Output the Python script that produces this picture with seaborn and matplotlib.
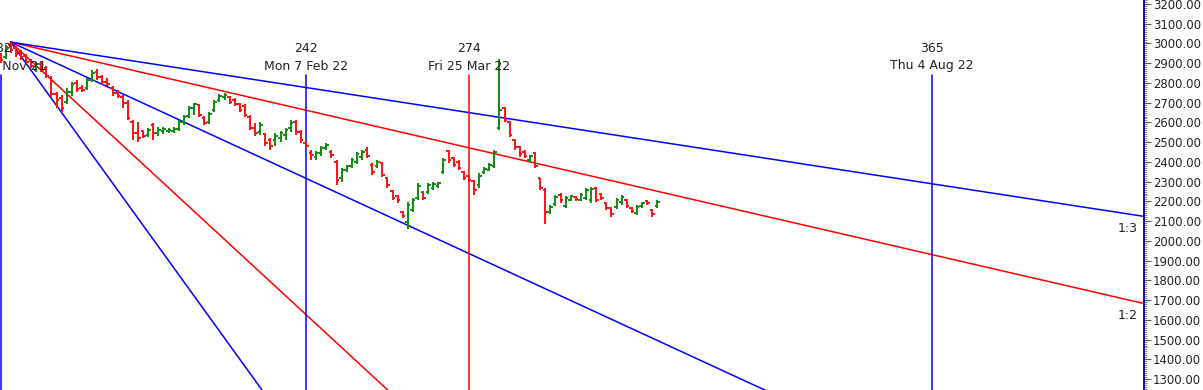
import numpy as np
import pandas as pd
import seaborn as sns
import matplotlib
matplotlib.use("Agg")
import matplotlib.pyplot as plt
import matplotlib.transforms as mtransforms
from matplotlib.ticker import MultipleLocator, FormatStrFormatter

# ---------------- data ----------------
start_bar = 182  # bar number of the first OHLC bar

opens = [2941, 2931, 2992, 2977, 2956, 2936, 2911, 2865, 2896, 2875,
         2825, 2744, 2723, 2703, 2754, 2799, 2774, 2774, 2814, 2855,
         2830, 2804, 2774, 2749, 2728, 2698, 2601, 2546, 2556, 2536,
         2586, 2546, 2556, 2556, 2556, 2566, 2601, 2632, 2672, 2688,
         2622, 2601, 2662, 2713, 2728, 2728, 2713, 2693, 2683, 2627,
         2571, 2551, 2541, 2510, 2510, 2521, 2536, 2571, 2601, 2551,
         2495, 2445, 2424, 2445, 2470, 2450, 2399, 2318, 2358, 2379,
         2399, 2424, 2460, 2384, 2379, 2394, 2318, 2252, 2227, 2145,
         2095, 2155, 2216, 2247, 2247, 2267, 2277, 2348, 2455, 2419,
         2399, 2348, 2328, 2303, 2282, 2348, 2358, 2379, 2571, 2672,
         2601, 2510, 2475, 2450, 2409, 2445, 2318, 2257, 2145, 2186,
         2232, 2176, 2206, 2222, 2206, 2216, 2206, 2267, 2237, 2191,
         2166, 2171, 2196, 2206, 2166, 2140, 2176, 2201, 2155, 2176]
highs = [2951, 2992, 3007, 2987, 2967, 2946, 2921, 2906, 2906, 2885,
         2835, 2754, 2738, 2774, 2804, 2814, 2789, 2825, 2865, 2870,
         2840, 2825, 2784, 2764, 2738, 2713, 2612, 2601, 2561, 2571,
         2596, 2576, 2576, 2571, 2576, 2612, 2637, 2683, 2698, 2693,
         2632, 2652, 2713, 2744, 2749, 2733, 2723, 2698, 2693, 2637,
         2596, 2601, 2546, 2521, 2546, 2556, 2571, 2612, 2612, 2561,
         2500, 2460, 2455, 2480, 2495, 2460, 2409, 2369, 2384, 2419,
         2450, 2460, 2475, 2394, 2409, 2399, 2323, 2257, 2232, 2150,
         2196, 2216, 2292, 2252, 2292, 2297, 2297, 2419, 2460, 2424,
         2409, 2353, 2333, 2308, 2343, 2374, 2394, 2460, 2921, 2678,
         2607, 2516, 2480, 2460, 2434, 2450, 2318, 2267, 2181, 2232,
         2242, 2227, 2232, 2227, 2242, 2267, 2272, 2272, 2242, 2196,
         2171, 2216, 2232, 2211, 2171, 2181, 2196, 2206, 2161, 2206]
lows = [2901, 2921, 2951, 2931, 2916, 2896, 2875, 2855, 2855, 2825,
        2728, 2672, 2652, 2693, 2733, 2754, 2754, 2764, 2804, 2814,
        2789, 2784, 2733, 2723, 2672, 2612, 2510, 2500, 2521, 2526,
        2510, 2531, 2541, 2546, 2546, 2556, 2586, 2622, 2637, 2627,
        2586, 2591, 2652, 2703, 2713, 2693, 2683, 2652, 2627, 2561,
        2531, 2536, 2480, 2460, 2480, 2500, 2510, 2551, 2536, 2495,
        2470, 2409, 2409, 2429, 2460, 2419, 2282, 2297, 2348, 2369,
        2389, 2409, 2419, 2333, 2369, 2323, 2267, 2206, 2191, 2115,
        2059, 2145, 2206, 2206, 2237, 2257, 2267, 2338, 2394, 2374,
        2358, 2308, 2297, 2232, 2267, 2338, 2353, 2369, 2561, 2601,
        2526, 2460, 2424, 2419, 2399, 2369, 2257, 2084, 2135, 2176,
        2191, 2166, 2201, 2201, 2201, 2206, 2191, 2196, 2206, 2155,
        2120, 2161, 2181, 2166, 2140, 2130, 2166, 2181, 2120, 2166]
closes = [2916, 2982, 2967, 2946, 2931, 2906, 2885, 2896, 2865, 2835,
          2744, 2713, 2672, 2754, 2794, 2769, 2764, 2814, 2850, 2830,
          2804, 2794, 2749, 2733, 2698, 2622, 2546, 2521, 2531, 2561,
          2546, 2561, 2566, 2561, 2566, 2601, 2627, 2672, 2693, 2637,
          2596, 2642, 2703, 2733, 2738, 2703, 2693, 2662, 2637, 2571,
          2546, 2586, 2495, 2480, 2531, 2546, 2561, 2596, 2551, 2510,
          2480, 2434, 2445, 2470, 2485, 2434, 2308, 2358, 2379, 2409,
          2440, 2450, 2429, 2348, 2399, 2333, 2282, 2216, 2206, 2125,
          2181, 2206, 2277, 2216, 2282, 2287, 2292, 2409, 2409, 2384,
          2369, 2318, 2308, 2257, 2328, 2363, 2384, 2450, 2662, 2612,
          2536, 2475, 2440, 2429, 2429, 2379, 2267, 2145, 2171, 2222,
          2206, 2216, 2227, 2211, 2232, 2257, 2262, 2206, 2216, 2166,
          2135, 2206, 2222, 2176, 2150, 2171, 2191, 2191, 2135, 2196]

# Gann fan
fan_origin_bar = 184
fan_origin_price = 3007
fan_unit = 11.9                     # price per bar for the 1:1 line
fan_ratios = [3, 2, 1, 0.5, 1 / 3]
fan_names = ["3:1", "2:1", "1:1", "1:2", "1:3"]
fan_colors = ["#0000ff", "#ff0000", "#0000ff", "#ff0000", "#0000ff"]
fan_shown_labels = ["1:2", "1:3"]

# time lines
vline_bars = [182, 242, 274, 365]
vline_dates = ["Thu 11 Nov 21", "Mon 7 Feb 22", "Fri 25 Mar 22", "Thu 4 Aug 22"]
vline_colors = ["#0000ff", "#0000ff", "#ff0000", "#0000ff"]

# ---------------- plot ----------------
sns.set_theme(style="white")
plt.rcParams['font.family'] = ['DejaVu Sans']

W, H = 1203, 390
fig = plt.figure(figsize=(W / 100, H / 100), dpi=100)
ax = fig.add_axes([0, 0, 1144 / W, 1])
x_min, x_max = 181.9, 406.6
y_min, y_max = 1244.6, 3220.3
ax.set_xlim(x_min, x_max)
ax.set_ylim(y_min, y_max)

text_color = "#222222"

# fan lines
rows = []
x_end = x_max + 20
for name, r in zip(fan_names, fan_ratios):
    rows.append({"fan": name, "bar": fan_origin_bar, "price": fan_origin_price})
    rows.append({"fan": name, "bar": x_end,
                 "price": fan_origin_price - r * fan_unit * (x_end - fan_origin_bar)})
fan_df = pd.DataFrame(rows)
sns.lineplot(data=fan_df, x="bar", y="price", hue="fan", hue_order=fan_names,
             palette=fan_colors, estimator=None, sort=False, legend=False,
             linewidth=1.1, ax=ax)
for name, r in zip(fan_names, fan_ratios):
    if name in fan_shown_labels:
        y_at = fan_origin_price - r * fan_unit * (x_max - fan_origin_bar)
        ax.annotate(name, xy=(x_max, y_at), xytext=(-6, -12),
                    textcoords="offset pixels", ha="right", va="center",
                    fontsize=9, color=text_color)

# vertical time lines
trans = mtransforms.blended_transform_factory(ax.transData, ax.transAxes)
for b, d, c in zip(vline_bars, vline_dates, vline_colors):
    ax.axvline(b, ymin=0, ymax=(H - 75) / H, color=c, lw=1.1)
    ax.text(b, (H - 49) / H, str(b), transform=trans, ha="center", va="center",
            fontsize=9, color=text_color, clip_on=False)
    ax.text(b, (H - 66) / H, d, transform=trans, ha="center", va="center",
            fontsize=9, color=text_color, clip_on=False)

# OHLC bars
bars = np.arange(start_bar, start_bar + len(opens))
o = np.array(opens); h = np.array(highs); l = np.array(lows); c = np.array(closes)
cols = np.where(c >= o, "#108c10", "#ff1010")
tw = 0.5
ax.vlines(bars, l, h, colors=cols, lw=1.4)
ax.hlines(o, bars - tw, bars, colors=cols, lw=1.4)
ax.hlines(c, bars, bars + tw, colors=cols, lw=1.4)

# axes styling
for s in ["top", "left", "bottom"]:
    ax.spines[s].set_visible(False)
ax.spines["right"].set_visible(True)
ax.spines["right"].set_color("#000080")
ax.spines["right"].set_linewidth(1.3)
ax.set_xticks([])
ax.yaxis.tick_right()
ax.yaxis.set_major_locator(MultipleLocator(100))
ax.yaxis.set_minor_locator(MultipleLocator(10))
ax.yaxis.set_major_formatter(FormatStrFormatter("%.2f"))
ax.tick_params(axis="y", which="major", direction="out", length=5, width=0.8,
               color="#555555", pad=1.5, labelsize=8.4, labelcolor=text_color)
ax.tick_params(axis="y", which="minor", direction="out", length=2.5, width=0.6,
               color="#777777", right=True)
ax.set_xlabel("")
ax.set_ylabel("")
ax.grid(False)

fig.savefig("out.png", dpi=100)
